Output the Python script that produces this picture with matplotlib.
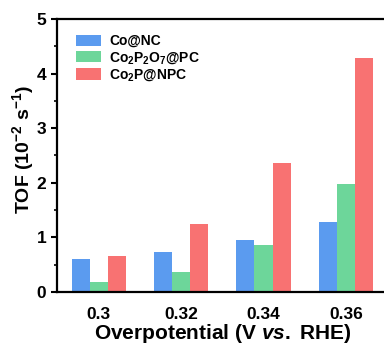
import matplotlib
matplotlib.use("Agg")
from matplotlib import pyplot as plt
from matplotlib.ticker import MultipleLocator
import numpy as np

plt.rcParams['font.family'] = ['Liberation Sans', 'DejaVu Sans']
plt.rcParams['mathtext.fontset'] = 'custom'
plt.rcParams['mathtext.rm'] = 'Liberation Sans:bold'
plt.rcParams['mathtext.it'] = 'Liberation Sans:bold:italic'
plt.rcParams['mathtext.bf'] = 'Liberation Sans:bold'

# valores
overpotential = ['0.3', '0.32', '0.34', '0.36']
co_nc = [0.60, 0.73, 0.95, 1.28]
co2p2o7_pc = [0.18, 0.37, 0.86, 1.98]
co2p_npc = [0.66, 1.25, 2.36, 4.28]

series = [
    ('Co@NC', co_nc, '#5b9bef'),
    (r'Co$_2$P$_2$O$_7$@PC', co2p2o7_pc, '#6dd69a'),
    (r'Co$_2$P@NPC', co2p_npc, '#f87272'),
]

fig = plt.figure(figsize=(3.84, 3.45), dpi=100)
ax = fig.add_axes([0.148, 0.154, 0.862, 0.791])

x = np.arange(len(overpotential))
w = 0.22
for i, (name, vals, color) in enumerate(series):
    ax.bar(x + (i - 1) * w, vals, width=w, color=color, label=name)

ax.set_xlim(-0.51, 3.51)
ax.set_ylim(0, 5)
ax.set_xticks(x)
ax.set_xticklabels(overpotential)
ax.yaxis.set_major_locator(MultipleLocator(1))
ax.yaxis.set_minor_locator(MultipleLocator(0.5))
ax.tick_params(axis='x', length=0, pad=11, labelsize=12.5)
ax.tick_params(axis='y', which='major', length=4, width=1.5, labelsize=12.5, direction='out')
ax.tick_params(axis='y', which='minor', length=2, width=1.2, direction='out')
for lbl in ax.get_xticklabels() + ax.get_yticklabels():
    lbl.set_fontweight('bold')

for s in ax.spines.values():
    s.set_linewidth(1.6)

ax.set_xlabel(r'Overpotential (V $\it{vs.}$ RHE)', fontsize=15, fontweight='bold', labelpad=0)
ax.set_ylabel(r'TOF (10$^{-2}$ s$^{-1}$)', fontsize=14, fontweight='bold')
ax.yaxis.set_label_coords(-0.064, 0.52)

leg = ax.legend(loc='upper left', bbox_to_anchor=(0.02, 0.99), frameon=False,
                prop={'weight': 'bold', 'size': 10}, handlelength=1.8, handleheight=0.9,
                handletextpad=0.6, labelspacing=0.12)

plt.savefig('out.png', dpi=100)
